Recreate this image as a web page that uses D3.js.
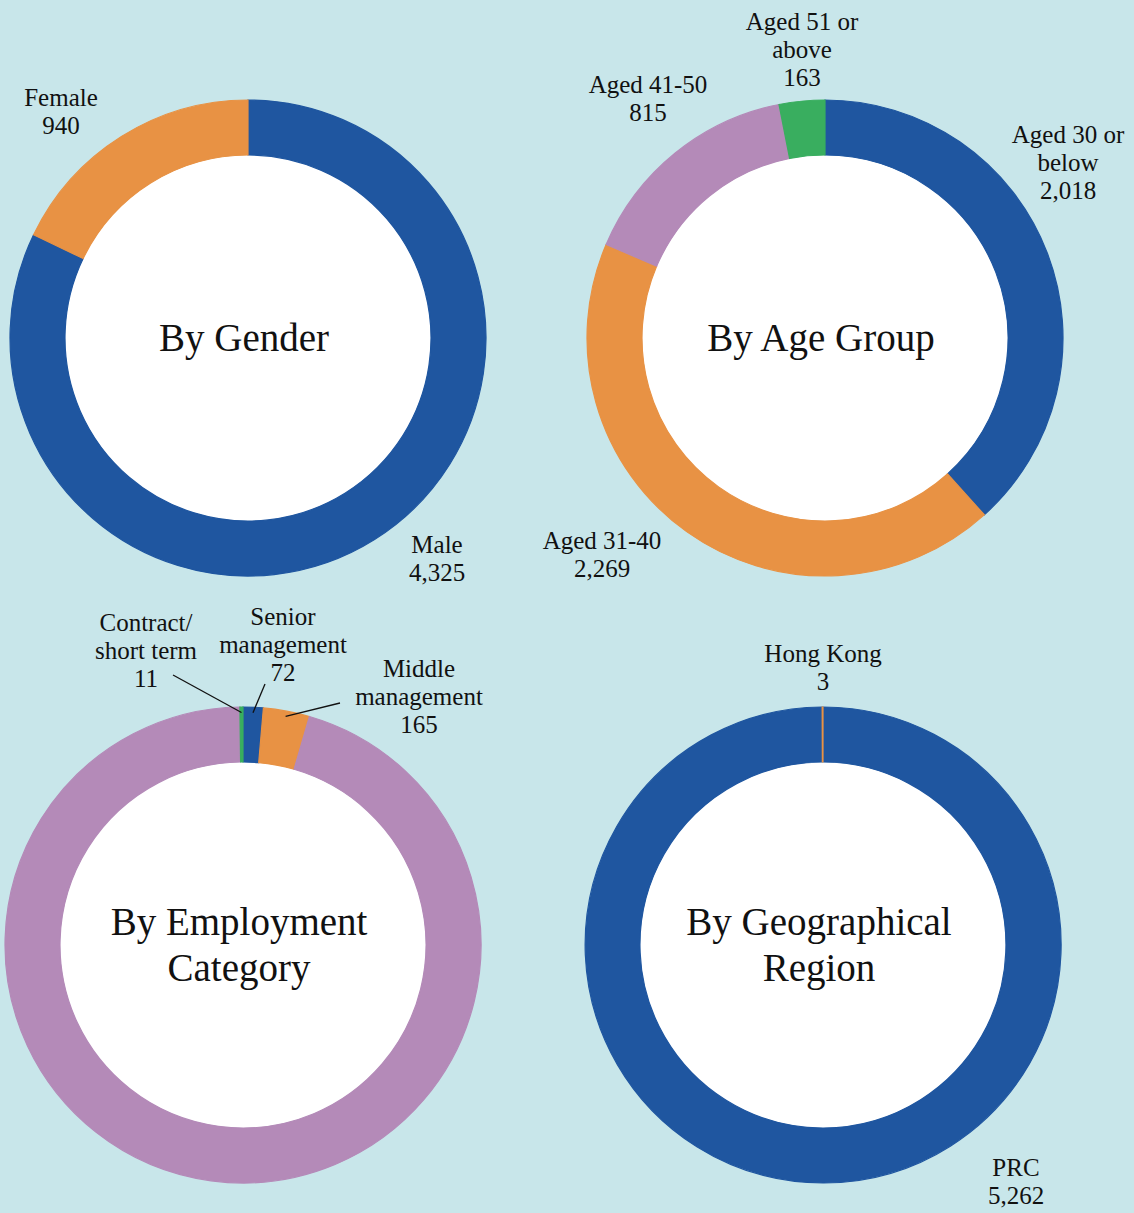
<!DOCTYPE html>
<html>
<head>
<meta charset="utf-8">
<script src="https://cdn.jsdelivr.net/npm/d3@7"></script>
<style>
  html, body { margin: 0; padding: 0; background: #c8e6ea; }
</style>
</head>
<body>
<div id="chart"></div>
<script>
// ---- data ----
const genderCats = ['Male', 'Female'];
const genderVals = [4325, 940];

const ageCats = ['Aged 30 or below', 'Aged 31-40', 'Aged 41-50', 'Aged 51 or above'];
const ageVals = [2018, 2269, 815, 163];

const empCats = ['Senior management', 'Middle management', 'General staff', 'Contract/short term'];
const empVals = [72, 165, 5017, 11];

const geoCats = ['PRC', 'Hong Kong'];
const geoVals = [5262, 3];

// label text broken into lines (last line is the value)
const labelLines = {
  'Male': ['Male'],
  'Female': ['Female'],
  'Aged 30 or below': ['Aged 30 or', 'below'],
  'Aged 31-40': ['Aged 31-40'],
  'Aged 41-50': ['Aged 41-50'],
  'Aged 51 or above': ['Aged 51 or', 'above'],
  'Senior management': ['Senior', 'management'],
  'Middle management': ['Middle', 'management'],
  'Contract/short term': ['Contract/', 'short term'],
  'Hong Kong': ['Hong Kong'],
  'PRC': ['PRC']
};

// ---- layout ----
const W = 1134, H = 1213;
const rOuter = 238, rInner = 183;
const serif = '"Liberation Serif"';
const colors = {blue: '#1f56a0', orange: '#e89244', purple: '#b48ab8', green: '#39ae5f'};

const charts = [
  {title: ['By Gender'], cats: genderCats, vals: genderVals, cx: 248, cy: 338,
   colors: [colors.blue, colors.orange],
   labels: {'Female': [-187, -227], 'Male': [189, 220]}},
  {title: ['By Age Group'], cats: ageCats, vals: ageVals, cx: 825, cy: 338,
   colors: [colors.blue, colors.orange, colors.purple, colors.green],
   labels: {'Aged 30 or below': [243, -176], 'Aged 31-40': [-223, 216],
            'Aged 41-50': [-177, -240], 'Aged 51 or above': [-23, -289]}},
  {title: ['By Employment', 'Category'], cats: empCats, vals: empVals, cx: 243, cy: 945,
   colors: [colors.blue, colors.orange, colors.purple, colors.green],
   labels: {'Contract/short term': [-97, -295], 'Senior management': [40, -301],
            'Middle management': [176, -249]},
   leaders: {'Contract/short term': [-70, -270], 'Senior management': [22, -261],
             'Middle management': [97, -242]}},
  {title: ['By Geographical', 'Region'], cats: geoCats, vals: geoVals, cx: 823, cy: 945,
   colors: [colors.blue, colors.orange],
   labels: {'Hong Kong': [0, -278], 'PRC': [193, 236]}}
];

const svg = d3.select('#chart').append('svg')
  .attr('width', W).attr('height', H);

svg.append('rect').attr('width', W).attr('height', H).attr('fill', '#c8e6ea');

const pie = d3.pie().sort(null).value(d => d.v);
const arc = d3.arc().innerRadius(rInner).outerRadius(rOuter);
const fmt = d3.format(',');

// one <text> per line
function addLines(g, lines, x, y, size, lh) {
  lines.forEach((s, i) => {
    g.append('text')
      .attr('x', x)
      .attr('y', y + (i - (lines.length - 1) / 2) * lh)
      .attr('dy', '0.35em')
      .attr('text-anchor', 'middle')
      .attr('fill', '#111')
      .attr('font-size', size)
      .style('font-family', serif)
      .text(s);
  });
}

charts.forEach(c => {
  const data = c.cats.map((k, i) => ({k: k, v: c.vals[i]}));
  const color = d3.scaleOrdinal(c.cats, c.colors);
  const g = svg.append('g').attr('transform', `translate(${c.cx},${c.cy})`);

  g.append('circle').attr('r', rInner).attr('fill', '#fff');

  g.selectAll('path.slice')
    .data(pie(data))
    .join('path')
    .classed('slice', true)
    .attr('d', arc)
    .attr('fill', d => color(d.data.k))
    .attr('stroke', d => color(d.data.k))
    .attr('stroke-width', 1.2);

  // leader lines
  if (c.leaders) {
    const lineArc = d3.arc().innerRadius(rOuter - 10).outerRadius(rOuter - 1);
    g.selectAll('line.leader')
      .data(pie(data).filter(d => c.leaders[d.data.k]))
      .join('line')
      .classed('leader', true)
      .attr('x1', d => c.leaders[d.data.k][0])
      .attr('y1', d => c.leaders[d.data.k][1])
      .attr('x2', d => lineArc.centroid(d)[0])
      .attr('y2', d => lineArc.centroid(d)[1])
      .attr('stroke', '#111').attr('stroke-width', 1.3);
  }

  // slice labels
  data.filter(d => c.labels[d.k]).forEach(d => {
    const [lx, ly] = c.labels[d.k];
    addLines(g, labelLines[d.k].concat([fmt(d.v)]), lx, ly, 25, 28);
  });

  // centre title
  addLines(g, c.title, -4, -1, 39, 46);
});
</script>
</body>
</html>
